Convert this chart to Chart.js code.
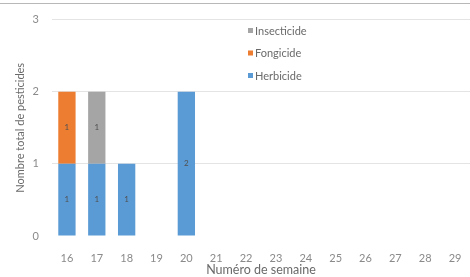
<!DOCTYPE html>
<html>
<head>
<meta charset="utf-8">
<script src="https://cdn.jsdelivr.net/npm/chart.js@4"></script>
<style>
  html, body { margin: 0; padding: 0; background: #fff; }
  #wrap { width: 470px; height: 277px; position: relative; }
</style>
</head>
<body>
<div id="wrap"><canvas id="chart"></canvas></div>
<script>
const weeks = ['16', '17', '18', '19', '20', '21', '22', '23', '24', '25', '26', '27', '28', '29'];
const herbicide   = [1, 1, 1, 0, 2, 0, 0, 0, 0, 0, 0, 0, 0, 0];
const fongicide   = [1, 0, 0, 0, 0, 0, 0, 0, 0, 0, 0, 0, 0, 0];
const insecticide = [0, 1, 0, 0, 0, 0, 0, 0, 0, 0, 0, 0, 0, 0];
const yTicks = [0, 1, 2, 3];

const font = 'Lato, "Open Sans", sans-serif';

// thin frame line along the top, like the screenshot
const topLine = {
    id: 'topLine',
    beforeDraw(chart) {
        const c = chart.ctx;
        c.save();
        c.strokeStyle = '#b8b8b8';
        c.lineWidth = 1;
        c.beginPath();
        c.moveTo(0, 3.5);
        c.lineTo(chart.width, 3.5);
        c.stroke();
        c.restore();
    }
};

// value labels in the middle of each segment
const segLabels = {
    id: 'segLabels',
    afterDatasetsDraw(chart) {
        const c = chart.ctx;
        c.save();
        c.font = '8px ' + font;
        c.fillStyle = '#505050';
        c.textAlign = 'center';
        c.textBaseline = 'middle';
        chart.data.datasets.forEach((ds, i) => {
            const meta = chart.getDatasetMeta(i);
            meta.data.forEach((bar, j) => {
                if (!ds.data[j]) return;
                const mid = (bar.y + bar.base) / 2;
                c.fillText(ds.data[j], bar.x, mid);
            });
        });
        c.restore();
    }
};

// legend in the upper middle of the plot, reversed order
const legendBox = {
    id: 'legendBox',
    afterDraw(chart) {
        const c = chart.ctx;
        const items = chart.data.datasets.slice().reverse();
        const x0 = 248, y0 = 31, step = 22.5;
        c.save();
        c.font = '11px ' + font;
        c.textBaseline = 'middle';
        items.forEach((ds, k) => {
            const y = y0 + k * step;
            c.fillStyle = ds.backgroundColor;
            c.fillRect(x0, y - 3, 5, 5);
            c.fillStyle = '#6a6a6a';
            c.fillText(ds.label, x0 + 7, y);
        });
        c.restore();
    }
};

new Chart(document.getElementById('chart'), {
    type: 'bar',
    data: {
        labels: weeks,
        datasets: [
            { label: 'Herbicide', data: herbicide, backgroundColor: '#5B9BD5' },
            { label: 'Fongicide', data: fongicide, backgroundColor: '#ED7D31' },
            { label: 'Insecticide', data: insecticide, backgroundColor: '#A5A5A5' }
        ]
    },
    options: {
        responsive: true,
        maintainAspectRatio: false,
        animation: false,
        devicePixelRatio: 1,
        layout: { padding: { top: 18, right: 0, left: 0, bottom: 0 } },
        datasets: { bar: { categoryPercentage: 1, barPercentage: 0.58, borderWidth: 0 } },
        plugins: { legend: { display: false }, tooltip: { enabled: false } },
        scales: {
            x: {
                stacked: true,
                grid: { display: false },
                border: { display: false },
                ticks: { color: '#8a8a8a', font: { family: font, size: 11 }, padding: 8, maxRotation: 0 },
                title: { display: true, text: 'Numéro de semaine', color: '#6a6a6a', font: { family: font, size: 12.5 }, padding: { top: 0, bottom: 0 } },
                afterFit(scale) { scale.height = 41; }
            },
            y: {
                stacked: true,
                min: 0,
                max: 3,
                afterBuildTicks(scale) { scale.ticks = yTicks.map(v => ({ value: v })); },
                grid: { color: (ctx) => ctx.tick.value === 0 ? 'rgba(0,0,0,0)' : '#e4e4e4', drawTicks: false },
                border: { display: false },
                ticks: { color: '#8a8a8a', font: { family: font, size: 11 }, padding: 13 },
                title: { display: true, text: 'Nombre total de pesticides', color: '#6a6a6a', font: { family: font, size: 11 }, padding: { top: 14, bottom: 0 } },
                afterFit(scale) { scale.width = 52; }
            }
        }
    },
    plugins: [topLine, segLabels, legendBox]
});
</script>
</body>
</html>
